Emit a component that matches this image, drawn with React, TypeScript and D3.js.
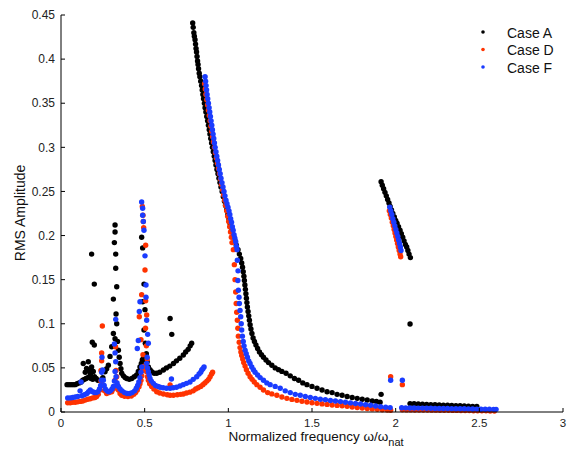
import * as d3 from 'd3';

type Pt = [number, number];

const xTicks = [0, 0.5, 1, 1.5, 2, 2.5, 3];
const yTicks = [0, 0.05, 0.1, 0.15, 0.2, 0.25, 0.3, 0.35, 0.4, 0.45];
const seriesNames = ['Case A', 'Case D', 'Case F'];
const seriesColors = ['#000000', '#ff3300', '#1a3cff'];

// Case A: low band, main branch, upper right branch, stray points, low right tail
const caseA: Pt[] = [
  [0.036, 0.031], [0.048, 0.031], [0.06, 0.031], [0.072, 0.031], [0.084, 0.031], [0.096, 0.032],
  [0.108, 0.033], [0.12, 0.034], [0.13, 0.036], [0.14, 0.037], [0.15, 0.038], [0.16, 0.039],
  [0.17, 0.04], [0.18, 0.038], [0.19, 0.037], [0.133, 0.055], [0.145, 0.045], [0.153, 0.0495],
  [0.163, 0.057], [0.17, 0.047], [0.176, 0.043], [0.183, 0.051], [0.193, 0.046], [0.183, 0.179],
  [0.199, 0.145], [0.187, 0.079], [0.199, 0.076], [0.2, 0.04], [0.21, 0.038], [0.22, 0.036],
  [0.235, 0.036], [0.25, 0.039], [0.263, 0.0457], [0.273, 0.049], [0.283, 0.053], [0.293, 0.063],
  [0.303, 0.074], [0.313, 0.089], [0.313, 0.128], [0.319, 0.192], [0.323, 0.212], [0.323, 0.204],
  [0.327, 0.179], [0.327, 0.163], [0.333, 0.142], [0.329, 0.111], [0.333, 0.1], [0.323, 0.083],
  [0.338, 0.08], [0.343, 0.07], [0.348, 0.062], [0.353, 0.055], [0.358, 0.049], [0.363, 0.044],
  [0.373, 0.041], [0.383, 0.039], [0.393, 0.038], [0.408, 0.037], [0.423, 0.038], [0.438, 0.04],
  [0.452, 0.042], [0.462, 0.046], [0.472, 0.051], [0.48, 0.055], [0.486, 0.059], [0.482, 0.198],
  [0.488, 0.186], [0.496, 0.145], [0.488, 0.125], [0.502, 0.116], [0.496, 0.093], [0.504, 0.078],
  [0.51, 0.066], [0.492, 0.061], [0.498, 0.06], [0.515, 0.057], [0.522, 0.051], [0.532, 0.048],
  [0.542, 0.0457], [0.557, 0.044], [0.572, 0.044], [0.59, 0.045], [0.612, 0.0476], [0.63, 0.05],
  [0.65, 0.052], [0.672, 0.055], [0.69, 0.058], [0.71, 0.061], [0.731, 0.0646], [0.745, 0.068],
  [0.76, 0.071], [0.772, 0.075], [0.781, 0.078], [0.652, 0.106], [0.662, 0.088],
  [0.787, 0.441], [0.79, 0.436], [0.794, 0.43], [0.797, 0.426], [0.801, 0.422], [0.804, 0.417],
  [0.807, 0.412], [0.81, 0.408], [0.813, 0.403], [0.816, 0.398], [0.819, 0.394], [0.822, 0.389],
  [0.826, 0.384], [0.83, 0.38], [0.835, 0.375], [0.84, 0.37], [0.844, 0.365], [0.848, 0.36],
  [0.852, 0.355], [0.857, 0.35], [0.861, 0.345], [0.866, 0.34], [0.871, 0.335], [0.876, 0.33],
  [0.881, 0.325], [0.886, 0.32], [0.89, 0.315], [0.895, 0.31], [0.9, 0.305], [0.905, 0.3],
  [0.91, 0.295], [0.916, 0.29], [0.921, 0.285], [0.926, 0.28], [0.932, 0.275], [0.938, 0.27],
  [0.944, 0.265], [0.95, 0.26], [0.956, 0.255], [0.963, 0.25], [0.97, 0.244], [0.977, 0.239],
  [0.983, 0.234], [0.99, 0.229], [0.997, 0.224], [1.004, 0.219], [1.01, 0.214], [1.017, 0.209],
  [1.024, 0.204], [1.032, 0.199], [1.04, 0.194], [1.048, 0.189], [1.058, 0.184], [1.066, 0.179],
  [1.074, 0.174], [1.08, 0.169], [1.085, 0.164], [1.089, 0.159], [1.093, 0.154], [1.096, 0.149],
  [1.099, 0.144], [1.102, 0.139], [1.105, 0.134], [1.108, 0.129], [1.111, 0.124], [1.114, 0.119],
  [1.118, 0.114], [1.122, 0.109], [1.126, 0.104], [1.13, 0.099], [1.135, 0.094], [1.141, 0.089],
  [1.148, 0.084], [1.156, 0.08], [1.165, 0.076], [1.175, 0.072], [1.186, 0.068], [1.198, 0.065],
  [1.21, 0.062], [1.225, 0.059], [1.24, 0.056], [1.26, 0.053], [1.28, 0.05], [1.3, 0.048],
  [1.32, 0.046], [1.345, 0.044], [1.37, 0.041], [1.395, 0.038], [1.42, 0.036], [1.445, 0.033],
  [1.47, 0.031], [1.5, 0.029], [1.53, 0.027], [1.56, 0.025], [1.59, 0.023], [1.62, 0.022],
  [1.65, 0.02], [1.68, 0.019], [1.71, 0.0175], [1.74, 0.0165], [1.77, 0.0155], [1.8, 0.0145],
  [1.83, 0.0136], [1.86, 0.0125], [1.885, 0.012], [1.907, 0.011],
  [1.913, 0.261], [1.92, 0.257], [1.928, 0.253], [1.936, 0.249], [1.944, 0.245], [1.952, 0.241],
  [1.96, 0.237], [1.967, 0.233], [1.975, 0.229], [1.983, 0.225], [1.992, 0.221], [2.0, 0.217],
  [2.008, 0.214], [2.017, 0.21], [2.026, 0.206], [2.034, 0.202], [2.042, 0.198], [2.05, 0.194],
  [2.058, 0.19], [2.066, 0.187], [2.073, 0.183], [2.08, 0.179], [2.088, 0.175],
  [2.086, 0.0998], [1.913, 0.02],
  [2.086, 0.0095], [2.11, 0.0093], [2.135, 0.009], [2.16, 0.0088], [2.185, 0.0086], [2.21, 0.0084],
  [2.235, 0.0082], [2.26, 0.008], [2.285, 0.0078], [2.31, 0.0076], [2.335, 0.0074], [2.36, 0.0072],
  [2.385, 0.007], [2.41, 0.0068], [2.435, 0.0066], [2.46, 0.0064], [2.485, 0.0062],
];

const caseD: Pt[] = [
  [0.04, 0.0105], [0.055, 0.0105], [0.07, 0.011], [0.085, 0.011], [0.1, 0.0115], [0.115, 0.012],
  [0.13, 0.0125], [0.145, 0.0135], [0.16, 0.0145], [0.175, 0.015], [0.19, 0.016], [0.203, 0.0165],
  [0.213, 0.0175], [0.223, 0.02], [0.233, 0.025], [0.239, 0.035], [0.239, 0.047], [0.243, 0.058],
  [0.243, 0.067], [0.247, 0.0975], [0.253, 0.03], [0.26, 0.024], [0.273, 0.021], [0.288, 0.022],
  [0.303, 0.023], [0.313, 0.026], [0.319, 0.0287], [0.323, 0.036], [0.329, 0.047], [0.326, 0.074],
  [0.333, 0.04], [0.338, 0.03], [0.343, 0.025], [0.353, 0.021], [0.363, 0.019], [0.38, 0.0178],
  [0.4, 0.0175], [0.42, 0.018], [0.435, 0.02], [0.446, 0.022], [0.456, 0.025], [0.466, 0.0287],
  [0.472, 0.032], [0.478, 0.036], [0.483, 0.041], [0.486, 0.047], [0.486, 0.233], [0.49, 0.223],
  [0.492, 0.216], [0.494, 0.209], [0.506, 0.189], [0.502, 0.161], [0.482, 0.133], [0.506, 0.126],
  [0.512, 0.11], [0.468, 0.108], [0.478, 0.082], [0.505, 0.095], [0.51, 0.075], [0.515, 0.06],
  [0.49, 0.065], [0.497, 0.052], [0.505, 0.05], [0.512, 0.0457], [0.517, 0.04], [0.522, 0.036],
  [0.53, 0.032], [0.542, 0.029], [0.555, 0.026], [0.572, 0.023], [0.59, 0.0215], [0.612, 0.0204],
  [0.635, 0.0195], [0.652, 0.019], [0.672, 0.019], [0.695, 0.0195], [0.715, 0.02], [0.731, 0.0204],
  [0.75, 0.0215], [0.77, 0.0225], [0.79, 0.024], [0.805, 0.026], [0.82, 0.0275], [0.835, 0.029],
  [0.848, 0.031], [0.86, 0.033], [0.872, 0.035], [0.882, 0.037], [0.891, 0.04], [0.9, 0.043],
  [0.906, 0.045], [0.652, 0.0306],
  [0.858, 0.372], [0.862, 0.366], [0.866, 0.36], [0.871, 0.354], [0.876, 0.348], [0.881, 0.342],
  [0.886, 0.336], [0.891, 0.33], [0.896, 0.324], [0.901, 0.318], [0.906, 0.312], [0.911, 0.306],
  [0.917, 0.3], [0.923, 0.294], [0.929, 0.288], [0.935, 0.282], [0.941, 0.276], [0.947, 0.27],
  [0.953, 0.264], [0.959, 0.258], [0.966, 0.252], [0.972, 0.246], [0.978, 0.24], [0.984, 0.234],
  [0.99, 0.228], [0.996, 0.222], [1.002, 0.216], [1.008, 0.21], [1.013, 0.204], [1.018, 0.198],
  [1.022, 0.192], [1.03, 0.184], [1.036, 0.167], [1.04, 0.15], [1.044, 0.136], [1.047, 0.123],
  [1.05, 0.113], [1.054, 0.104], [1.057, 0.095], [1.06, 0.086], [1.065, 0.079], [1.07, 0.073],
  [1.075, 0.068], [1.08, 0.064], [1.086, 0.06], [1.092, 0.056], [1.1, 0.052], [1.108, 0.048],
  [1.118, 0.044], [1.13, 0.04], [1.142, 0.037], [1.155, 0.034], [1.17, 0.031], [1.19, 0.028],
  [1.21, 0.025], [1.235, 0.022], [1.26, 0.0205], [1.29, 0.019], [1.32, 0.017], [1.35, 0.0155],
  [1.38, 0.0143], [1.41, 0.0132], [1.44, 0.0122], [1.47, 0.0113], [1.5, 0.0105], [1.53, 0.0098],
  [1.56, 0.0092], [1.59, 0.0086], [1.62, 0.008], [1.65, 0.0075], [1.68, 0.007], [1.71, 0.0064],
  [1.74, 0.0057], [1.77, 0.005], [1.8, 0.0045], [1.83, 0.004], [1.86, 0.0035], [1.89, 0.003],
  [1.92, 0.0026], [1.95, 0.0022], [1.97, 0.002],
  [1.962, 0.228], [1.968, 0.224], [1.974, 0.22], [1.98, 0.215], [1.986, 0.211], [1.991, 0.207],
  [1.996, 0.203], [2.001, 0.199], [2.006, 0.195], [2.011, 0.191], [2.016, 0.187], [2.021, 0.183],
  [2.026, 0.179], [2.03, 0.176],
  [1.97, 0.04], [2.04, 0.031],
  [2.04, 0.0025], [2.065, 0.0024], [2.09, 0.0024], [2.115, 0.0023], [2.14, 0.0023], [2.165, 0.0022],
  [2.19, 0.0022], [2.215, 0.0021], [2.24, 0.0021], [2.265, 0.002], [2.29, 0.002], [2.315, 0.0019],
  [2.34, 0.0018], [2.365, 0.0018], [2.39, 0.0017], [2.415, 0.0016], [2.44, 0.0016], [2.465, 0.0015],
  [2.49, 0.0014], [2.515, 0.0014], [2.54, 0.0013], [2.565, 0.0012], [2.59, 0.0012],
];

const caseF: Pt[] = [
  [0.04, 0.016], [0.055, 0.016], [0.07, 0.0165], [0.085, 0.017], [0.1, 0.0175], [0.114, 0.024],
  [0.12, 0.034], [0.125, 0.0185], [0.14, 0.0195], [0.155, 0.021], [0.165, 0.023], [0.175, 0.025],
  [0.19, 0.023], [0.2, 0.022], [0.21, 0.022], [0.22, 0.023], [0.23, 0.026], [0.237, 0.03],
  [0.241, 0.036], [0.243, 0.045], [0.245, 0.062], [0.249, 0.0476], [0.253, 0.036], [0.258, 0.03],
  [0.265, 0.026], [0.275, 0.024], [0.285, 0.023], [0.295, 0.024], [0.305, 0.026], [0.313, 0.029],
  [0.319, 0.035], [0.323, 0.046], [0.327, 0.057], [0.323, 0.067], [0.319, 0.077], [0.327, 0.105],
  [0.329, 0.04], [0.335, 0.033], [0.343, 0.029], [0.353, 0.026], [0.365, 0.024], [0.38, 0.022],
  [0.395, 0.021], [0.41, 0.021], [0.425, 0.022], [0.44, 0.024], [0.45, 0.027], [0.458, 0.03],
  [0.465, 0.034], [0.472, 0.039], [0.478, 0.045], [0.483, 0.051], [0.456, 0.072], [0.462, 0.081],
  [0.468, 0.114], [0.472, 0.125], [0.482, 0.238], [0.488, 0.231], [0.488, 0.223], [0.492, 0.216],
  [0.496, 0.206], [0.502, 0.177], [0.508, 0.144], [0.508, 0.13], [0.512, 0.104], [0.518, 0.088],
  [0.522, 0.078], [0.515, 0.062], [0.512, 0.055], [0.517, 0.05], [0.522, 0.0457], [0.527, 0.042],
  [0.532, 0.038], [0.54, 0.035], [0.552, 0.0325], [0.565, 0.03], [0.58, 0.029], [0.592, 0.028],
  [0.61, 0.0275], [0.63, 0.027], [0.652, 0.027], [0.67, 0.0275], [0.69, 0.028], [0.711, 0.0295],
  [0.73, 0.031], [0.75, 0.0325], [0.771, 0.034], [0.79, 0.037], [0.811, 0.04], [0.825, 0.043],
  [0.835, 0.045], [0.841, 0.0476], [0.848, 0.049], [0.855, 0.051], [0.66, 0.0374],
  [0.861, 0.38], [0.864, 0.375], [0.867, 0.37], [0.87, 0.365], [0.873, 0.36], [0.877, 0.355],
  [0.881, 0.35], [0.885, 0.345], [0.889, 0.34], [0.893, 0.335], [0.897, 0.33], [0.901, 0.325],
  [0.905, 0.32], [0.909, 0.315], [0.913, 0.31], [0.917, 0.305], [0.921, 0.3], [0.926, 0.295],
  [0.931, 0.29], [0.936, 0.285], [0.941, 0.28], [0.946, 0.275], [0.951, 0.27], [0.956, 0.265],
  [0.962, 0.26], [0.968, 0.255], [0.974, 0.25], [0.98, 0.245], [0.986, 0.24], [0.992, 0.236],
  [0.998, 0.232], [1.004, 0.228], [1.009, 0.224], [1.014, 0.219], [1.019, 0.215], [1.024, 0.21],
  [1.029, 0.206], [1.034, 0.201], [1.039, 0.197], [1.044, 0.193], [1.048, 0.188], [1.052, 0.184],
  [1.054, 0.172], [1.058, 0.16], [1.057, 0.149], [1.06, 0.138], [1.064, 0.13], [1.066, 0.123],
  [1.07, 0.115], [1.074, 0.108], [1.077, 0.1], [1.08, 0.093], [1.084, 0.086], [1.089, 0.08],
  [1.094, 0.075], [1.1, 0.07], [1.107, 0.066], [1.114, 0.062], [1.122, 0.058], [1.13, 0.055],
  [1.14, 0.051], [1.15, 0.048], [1.16, 0.045], [1.175, 0.042], [1.19, 0.039], [1.21, 0.036],
  [1.23, 0.033], [1.25, 0.031], [1.28, 0.029], [1.31, 0.027], [1.34, 0.024], [1.37, 0.022],
  [1.4, 0.02], [1.43, 0.019], [1.46, 0.0175], [1.49, 0.0165], [1.52, 0.0155], [1.55, 0.0145],
  [1.58, 0.014], [1.61, 0.013], [1.64, 0.0125], [1.67, 0.0118], [1.7, 0.011], [1.73, 0.0103],
  [1.76, 0.0097], [1.79, 0.009], [1.82, 0.0083], [1.85, 0.0076], [1.88, 0.0068], [1.91, 0.006],
  [1.94, 0.0055], [1.967, 0.005],
  [1.965, 0.232], [1.971, 0.228], [1.977, 0.224], [1.983, 0.219], [1.989, 0.215], [1.995, 0.211],
  [2.001, 0.207], [2.007, 0.203], [2.013, 0.199], [2.018, 0.195], [2.023, 0.191], [2.028, 0.187],
  [2.032, 0.183],
  [1.97, 0.036], [2.04, 0.036],
  [2.036, 0.0048], [2.06, 0.0047], [2.085, 0.0046], [2.11, 0.0045], [2.135, 0.0044], [2.16, 0.0044],
  [2.185, 0.0043], [2.21, 0.0042], [2.235, 0.0041], [2.26, 0.004], [2.285, 0.004], [2.31, 0.0039],
  [2.335, 0.0038], [2.36, 0.0037], [2.385, 0.0036], [2.41, 0.0036], [2.435, 0.0035], [2.46, 0.0034],
  [2.485, 0.0033], [2.51, 0.0032], [2.535, 0.0032], [2.56, 0.0031], [2.585, 0.003], [2.6, 0.003],
];

const allSeries = [caseA, caseD, caseF];

const W = 570;
const H = 450;
const left = 61;
const right = 563;
const top = 15;
const bottom = 412;
const font = 'Helvetica, Arial, "Liberation Sans", sans-serif';

export default function App() {
  const x = d3.scaleLinear().domain([0, 3]).range([left, right]);
  const y = d3.scaleLinear().domain([0, 0.45]).range([bottom, top]);

  return (
    <svg width={W} height={H} style={{ position: 'absolute', left: 0, top: 0, background: '#fff' }} fontFamily={font}>
      {allSeries.map((pts, i) => (
        <g key={seriesNames[i]} fill={seriesColors[i]}>
          {pts.map((p, j) => (
            <circle key={j} cx={x(p[0])} cy={y(p[1])} r={2.7} />
          ))}
        </g>
      ))}

      {/* axes, ticks pointing inward */}
      <line x1={left} x2={left} y1={top} y2={bottom} stroke="#000" strokeWidth={1} />
      <line x1={left} x2={right} y1={bottom} y2={bottom} stroke="#000" strokeWidth={1} />
      {yTicks.map((t) => (
        <g key={`y${t}`}>
          <line x1={left} x2={left + 4} y1={y(t)} y2={y(t)} stroke="#000" />
          <text x={left - 6} y={y(t)} dy="0.35em" textAnchor="end" fontSize={12} fill="#222">
            {String(t)}
          </text>
        </g>
      ))}
      {xTicks.map((t) => (
        <g key={`x${t}`}>
          <line x1={x(t)} x2={x(t)} y1={bottom} y2={bottom - 4} stroke="#000" />
          <text x={x(t)} y={bottom + 15} textAnchor="middle" fontSize={11.5} fill="#222">
            {String(t)}
          </text>
        </g>
      ))}

      <text transform={`translate(25,213) rotate(-90)`} textAnchor="middle" fontSize={14} fill="#111">
        RMS Amplitude
      </text>
      <text x={316} y={441} textAnchor="middle" fontSize={13.5} fill="#111">
        Normalized frequency ω/ω
        <tspan fontSize={11} dy={5}>nat</tspan>
      </text>

      {/* legend */}
      {seriesNames.map((name, i) => (
        <g key={name}>
          <circle cx={483} cy={32 + i * 17.5} r={1.8} fill={seriesColors[i]} />
          <text x={507} y={32 + i * 17.5} dy="0.4em" fontSize={14} fill="#111">
            {name}
          </text>
        </g>
      ))}
    </svg>
  );
}
